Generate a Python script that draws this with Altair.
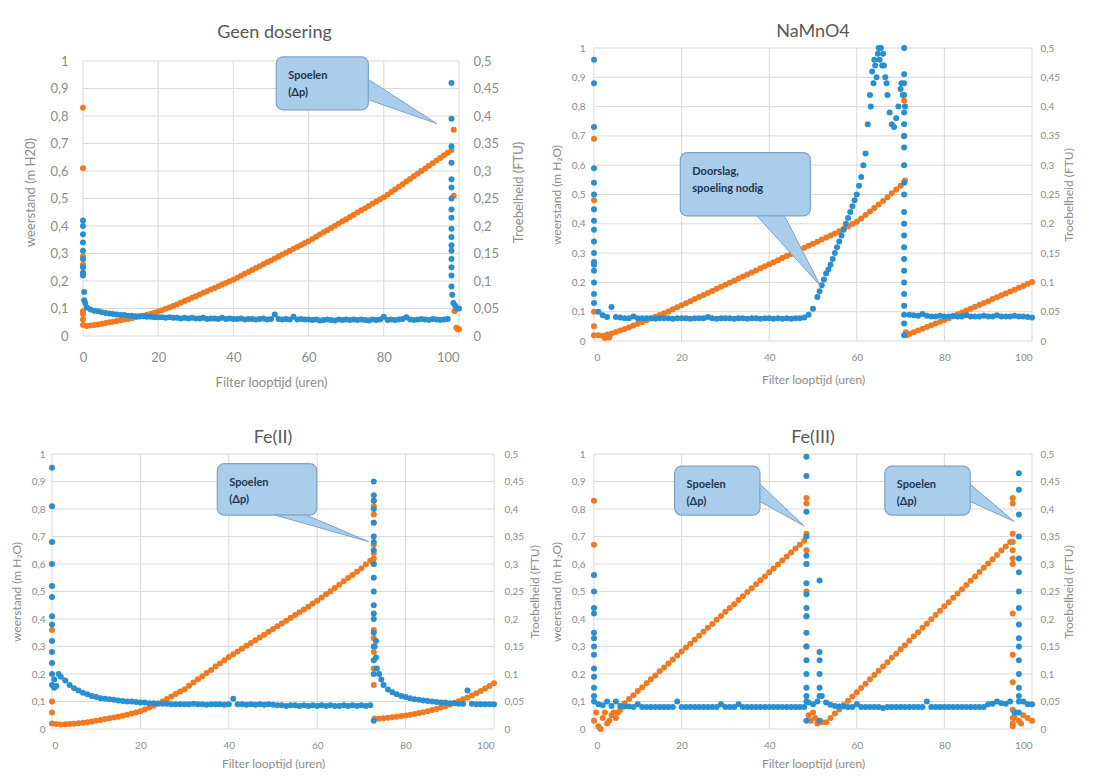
import altair as alt
import pandas as pd

# ---------------------------------------------------------------- data
HOURS = [0, 1, 2, 3, 4, 5, 6, 7, 8, 9, 10, 11, 12, 13, 14, 15, 16, 17, 18, 19, 20,
         21, 22, 23, 24, 25, 26, 27, 28, 29, 30, 31, 32, 33, 34, 35, 36, 37, 38, 39, 40,
         41, 42, 43, 44, 45, 46, 47, 48, 49, 50, 51, 52, 53, 54, 55, 56, 57, 58, 59, 60,
         61, 62, 63, 64, 65, 66, 67, 68, 69, 70, 71, 72, 73, 74, 75, 76, 77, 78, 79, 80,
         81, 82, 83, 84, 85, 86, 87, 88, 89, 90, 91, 92, 93, 94, 95, 96, 97, 98, 99, 100]

X_TICKS = [0, 20, 40, 60, 80, 100]
LEFT_TICKS = [0, 0.1, 0.2, 0.3, 0.4, 0.5, 0.6, 0.7, 0.8, 0.9, 1]
RIGHT_TICKS = [0, 0.05, 0.1, 0.15, 0.2, 0.25, 0.3, 0.35, 0.4, 0.45, 0.5]

# --- Geen dosering: weerstand (m H2O), hours 0..98
GD_W = [0.040, 0.036, 0.038, 0.040, 0.042, 0.045, 0.047, 0.050, 0.052, 0.055, 0.057,
        0.060, 0.062, 0.065, 0.068, 0.071, 0.074, 0.077, 0.081, 0.085, 0.089,
        0.094, 0.099, 0.104, 0.109, 0.115, 0.121, 0.127, 0.133, 0.139, 0.145,
        0.151, 0.157, 0.163, 0.169, 0.175, 0.181, 0.187, 0.193, 0.199, 0.205,
        0.212, 0.219, 0.226, 0.233, 0.240, 0.247, 0.254, 0.261, 0.268, 0.275,
        0.282, 0.289, 0.296, 0.303, 0.310, 0.317, 0.324, 0.331, 0.338, 0.345,
        0.353, 0.361, 0.369, 0.377, 0.385, 0.393, 0.401, 0.409, 0.417, 0.425,
        0.433, 0.441, 0.449, 0.457, 0.465, 0.473, 0.481, 0.489, 0.497, 0.505,
        0.514, 0.524, 0.533, 0.543, 0.552, 0.562, 0.571, 0.581, 0.590, 0.600,
        0.609, 0.619, 0.628, 0.638, 0.647, 0.657, 0.666, 0.676]
GD_W_EXTRA_X = [0, 0, 0, 0, 0, 0, 0, 98.6, 98.6, 98.8, 99.3, 99.7, 100]
GD_W_EXTRA_Y = [0.83, 0.61, 0.29, 0.26, 0.09, 0.08, 0.06, 0.75, 0.51, 0.09, 0.03, 0.025, 0.025]
# --- Geen dosering: troebelheid (FTU), hours 0..97
GD_T = [0.115, 0.052, 0.048, 0.046, 0.045, 0.043, 0.042, 0.041, 0.040, 0.039, 0.038,
        0.038, 0.037, 0.037, 0.036, 0.036, 0.036, 0.035, 0.035, 0.034, 0.034,
        0.034, 0.033, 0.034, 0.033, 0.033, 0.032, 0.033, 0.032, 0.033, 0.032,
        0.032, 0.033, 0.031, 0.032, 0.032, 0.031, 0.033, 0.031, 0.032, 0.031,
        0.031, 0.032, 0.030, 0.031, 0.031, 0.030, 0.031, 0.032, 0.030, 0.031,
        0.039, 0.031, 0.030, 0.031, 0.030, 0.035, 0.030, 0.031, 0.030, 0.030,
        0.029, 0.030, 0.028, 0.029, 0.030, 0.029, 0.028, 0.030, 0.029, 0.030,
        0.029, 0.030, 0.029, 0.030, 0.029, 0.028, 0.030, 0.029, 0.030, 0.035,
        0.029, 0.030, 0.029, 0.030, 0.031, 0.034, 0.030, 0.029, 0.030, 0.031,
        0.030, 0.029, 0.031, 0.030, 0.029, 0.030, 0.031]
GD_T_EXTRA_X = [0, 0, 0, 0, 0, 0, 0, 0, 0.3, 0.3, 0.6,
                98, 98, 98, 98, 98, 98, 98, 98, 98, 98, 98, 98, 98, 98, 98, 98, 98, 98.2,
                98.5, 99, 99.5, 100]
GD_T_EXTRA_Y = [0.21, 0.20, 0.185, 0.17, 0.155, 0.14, 0.125, 0.11, 0.08, 0.065, 0.06,
                0.46, 0.395, 0.345, 0.315, 0.285, 0.27, 0.25, 0.23, 0.215, 0.195, 0.18,
                0.165, 0.155, 0.14, 0.125, 0.11, 0.09, 0.075,
                0.06, 0.055, 0.05, 0.05]

# --- NaMnO4: weerstand, hours 0..100
NA_W = [0.020, 0.020, 0.018, 0.022, 0.026, 0.031, 0.036, 0.041, 0.047, 0.053, 0.059,
        0.065, 0.071, 0.077, 0.083, 0.089, 0.095, 0.101, 0.108, 0.115, 0.122,
        0.129, 0.136, 0.143, 0.150, 0.157, 0.164, 0.171, 0.178, 0.185, 0.192,
        0.199, 0.206, 0.213, 0.220, 0.227, 0.234, 0.241, 0.248, 0.255, 0.262,
        0.269, 0.276, 0.283, 0.290, 0.297, 0.304, 0.311, 0.318, 0.325, 0.332,
        0.339, 0.346, 0.353, 0.360, 0.367, 0.375, 0.383, 0.391, 0.399, 0.407,
        0.418, 0.430, 0.442, 0.454, 0.466, 0.478, 0.491, 0.504, 0.517, 0.530,
        0.548, 0.024, 0.030, 0.036, 0.042, 0.048, 0.054, 0.060, 0.066, 0.072,
        0.078, 0.084, 0.091, 0.097, 0.104, 0.110, 0.117, 0.123, 0.130, 0.136,
        0.143, 0.149, 0.156, 0.162, 0.169, 0.175, 0.182, 0.188, 0.195, 0.201]
NA_W_EXTRA_X = [0, 0, 0, 0, 2.5, 3.5, 70.8, 70.8, 71.2, 71.4]
NA_W_EXTRA_Y = [0.69, 0.48, 0.10, 0.05, 0.01, 0.012, 0.82, 0.70, 0.03, 0.02]
# --- NaMnO4: troebelheid, hours 0..100
NA_T = [0.130, 0.050, 0.044, 0.041, 0.058, 0.041, 0.040, 0.039, 0.039, 0.042, 0.039,
        0.039, 0.039, 0.039, 0.038, 0.039, 0.039, 0.039, 0.038, 0.039, 0.039,
        0.039, 0.038, 0.039, 0.039, 0.039, 0.041, 0.039, 0.038, 0.039, 0.039,
        0.039, 0.038, 0.039, 0.039, 0.038, 0.039, 0.039, 0.038, 0.039, 0.039,
        0.038, 0.039, 0.038, 0.039, 0.038, 0.039, 0.039, 0.040, 0.045, 0.055,
        0.075, 0.095, 0.115, 0.130, 0.150, 0.170, 0.190, 0.210, 0.230, 0.250,
        0.280, 0.320, 0.420, 0.480, 0.500, 0.490, 0.420, 0.370, 0.380, 0.430,
        0.400, 0.045, 0.044, 0.043, 0.046, 0.043, 0.042, 0.042, 0.043, 0.042,
        0.042, 0.043, 0.042, 0.042, 0.044, 0.042, 0.042, 0.042, 0.043, 0.042,
        0.042, 0.044, 0.042, 0.042, 0.042, 0.043, 0.042, 0.042, 0.041, 0.040]
NA_T_EXTRA_X = [0, 0, 0, 0, 0, 0, 0, 0, 0, 0, 0, 0, 0, 0, 0, 0,
                51.5, 52.5, 53.5, 54.5, 55.5, 56.5, 57.5, 58.5, 59.5, 60.5, 61.5,
                62.5, 63.2, 63.5, 63.8, 64.2, 64.5, 64.8, 65.2, 65.5, 65.8, 66.2, 66.5,
                66.8, 67.5, 68.5, 69.5, 70.2, 70.5,
                70.8, 70.8, 70.8, 70.8, 70.8, 70.8, 70.8, 70.8, 70.8, 70.8, 70.8, 70.8,
                70.8, 70.8, 70.8, 70.8, 70.8, 70.8, 70.8, 70.8, 70.8, 70.8, 70.8]
NA_T_EXTRA_Y = [0.48, 0.44, 0.365, 0.295, 0.27, 0.25, 0.225, 0.205, 0.19, 0.17, 0.15,
                0.135, 0.12, 0.10, 0.08, 0.065,
                0.085, 0.105, 0.122, 0.14, 0.16, 0.18, 0.20, 0.22, 0.24, 0.265, 0.30,
                0.37, 0.40, 0.46, 0.44, 0.47, 0.45, 0.49, 0.48, 0.50, 0.47, 0.47, 0.45,
                0.44, 0.39, 0.365, 0.40, 0.44, 0.42,
                0.50, 0.455, 0.44, 0.42, 0.39, 0.37, 0.35, 0.33, 0.30, 0.27, 0.25, 0.22,
                0.20, 0.18, 0.16, 0.14, 0.12, 0.10, 0.08, 0.06, 0.045, 0.03, 0.01]

# --- Fe(II): weerstand, hours 0..100
F2_W = [0.020, 0.018, 0.016, 0.017, 0.018, 0.019, 0.021, 0.023, 0.025, 0.027, 0.030,
        0.033, 0.036, 0.039, 0.042, 0.045, 0.048, 0.052, 0.056, 0.060, 0.065,
        0.071, 0.078, 0.085, 0.093, 0.100, 0.109, 0.118, 0.127, 0.136, 0.145,
        0.157, 0.169, 0.181, 0.192, 0.204, 0.215, 0.227, 0.238, 0.250, 0.262,
        0.272, 0.282, 0.293, 0.303, 0.313, 0.323, 0.333, 0.343, 0.354, 0.364,
        0.374, 0.384, 0.394, 0.405, 0.415, 0.425, 0.435, 0.445, 0.456, 0.466,
        0.478, 0.490, 0.501, 0.513, 0.525, 0.537, 0.549, 0.560, 0.572, 0.584,
        0.598, 0.612, 0.038, 0.037, 0.039, 0.041, 0.043, 0.045, 0.047, 0.049,
        0.052, 0.055, 0.058, 0.061, 0.065, 0.069, 0.073, 0.078, 0.083, 0.089,
        0.095, 0.101, 0.108, 0.115, 0.122, 0.130, 0.138, 0.147, 0.156, 0.166]
F2_W_EXTRA_X = [0, 0, 0, 72.8, 72.8, 72.8, 72.8, 72.8, 72.8, 72.8, 72.8, 72.8, 72.8, 72.8,
                72.8, 72.8]
F2_W_EXTRA_Y = [0.36, 0.10, 0.06, 0.83, 0.81, 0.78, 0.75, 0.67, 0.64, 0.62, 0.60, 0.36,
                0.33, 0.28, 0.22, 0.16]
# --- Fe(II): troebelheid, hours 0..100
F2_T = [0.080, 0.078, 0.095, 0.088, 0.080, 0.074, 0.070, 0.066, 0.063, 0.060, 0.058,
        0.056, 0.055, 0.054, 0.053, 0.052, 0.051, 0.050, 0.050, 0.049, 0.048,
        0.048, 0.047, 0.047, 0.046, 0.046, 0.046, 0.045, 0.045, 0.045, 0.045,
        0.045, 0.046, 0.045, 0.045, 0.044, 0.045, 0.045, 0.045, 0.044, 0.045,
        0.055, 0.045, 0.045, 0.044, 0.045, 0.044, 0.045, 0.044, 0.045, 0.044,
        0.043, 0.043, 0.042, 0.043, 0.043, 0.042, 0.043, 0.042, 0.043, 0.042,
        0.043, 0.042, 0.043, 0.042, 0.042, 0.043, 0.042, 0.043, 0.042, 0.043,
        0.042, 0.043, 0.150, 0.100, 0.080, 0.072, 0.067, 0.063, 0.060, 0.058,
        0.056, 0.054, 0.053, 0.052, 0.051, 0.050, 0.049, 0.048, 0.048, 0.047,
        0.047, 0.046, 0.046, 0.070, 0.046, 0.045, 0.045, 0.045, 0.045, 0.045]
F2_T_EXTRA_X = [0, 0, 0, 0, 0, 0, 0, 0, 0, 0, 0, 0, 0.5, 0.5, 1.5,
                72.8, 72.8, 72.8, 72.8, 72.8, 72.8, 72.8, 72.8, 72.8, 72.8, 72.8, 72.8,
                72.8, 72.8, 72.8, 72.8, 72.8, 72.8, 72.8, 73.3, 73.3, 73.5, 74.5]
F2_T_EXTRA_Y = [0.475, 0.405, 0.34, 0.30, 0.26, 0.24, 0.205, 0.19, 0.16, 0.14, 0.12, 0.10,
                0.09, 0.075, 0.1,
                0.45, 0.425, 0.415, 0.40, 0.375, 0.35, 0.34, 0.325, 0.30, 0.275, 0.25,
                0.225, 0.21, 0.20, 0.175, 0.15, 0.125, 0.10, 0.015, 0.16, 0.13, 0.11, 0.09]

# --- Fe(III): weerstand, hours 0..100
F3_W = [0.030, 0.010, 0.040, 0.020, 0.050, 0.040, 0.070, 0.094, 0.109, 0.123, 0.138,
        0.152, 0.166, 0.181, 0.195, 0.210, 0.224, 0.238, 0.253, 0.267, 0.282,
        0.296, 0.310, 0.325, 0.339, 0.354, 0.368, 0.382, 0.397, 0.411, 0.426,
        0.440, 0.454, 0.469, 0.483, 0.498, 0.512, 0.526, 0.541, 0.555, 0.570,
        0.584, 0.598, 0.613, 0.627, 0.642, 0.656, 0.670, 0.685, 0.050, 0.060,
        0.020, 0.025, 0.025, 0.040, 0.056, 0.071, 0.087, 0.103, 0.118, 0.134,
        0.149, 0.165, 0.181, 0.196, 0.212, 0.227, 0.243, 0.259, 0.274, 0.290,
        0.305, 0.321, 0.337, 0.352, 0.368, 0.383, 0.399, 0.415, 0.430, 0.446,
        0.461, 0.477, 0.493, 0.508, 0.524, 0.539, 0.555, 0.571, 0.586, 0.602,
        0.617, 0.633, 0.649, 0.664, 0.680, 0.040, 0.030, 0.050, 0.040, 0.030]
F3_W_EXTRA_X = [0, 0, 0.5, 1.5, 2.5, 3.5, 4.5, 5.5,
                48.5, 48.5, 48.5, 48.5, 48.5, 48.5, 48.5, 48.5, 49.5, 50.5, 51.5,
                95.6, 95.6, 95.6, 95.6, 95.6, 95.6, 95.6, 95.6, 95.6, 95.6, 95.6,
                95.6, 95.6, 95.6, 96.5, 97.5]
F3_W_EXTRA_Y = [0.83, 0.67, 0.06, 0.0, 0.06, 0.03, 0.06, 0.06,
                0.84, 0.82, 0.71, 0.65, 0.60, 0.50, 0.41, 0.30, 0.03, 0.04, 0.03,
                0.84, 0.82, 0.71, 0.68, 0.65, 0.62, 0.60, 0.42, 0.27, 0.17, 0.07,
                0.04, 0.02, 0.01, 0.06, 0.02]
# --- Fe(III): troebelheid, hours 0..100
F3_T = [0.050, 0.045, 0.043, 0.050, 0.042, 0.050, 0.042, 0.041, 0.041, 0.040, 0.045,
        0.040, 0.040, 0.040, 0.040, 0.040, 0.040, 0.040, 0.040, 0.050, 0.040,
        0.040, 0.040, 0.040, 0.040, 0.040, 0.040, 0.040, 0.040, 0.045, 0.040,
        0.040, 0.040, 0.045, 0.040, 0.040, 0.040, 0.040, 0.040, 0.040, 0.040,
        0.040, 0.040, 0.040, 0.040, 0.040, 0.040, 0.040, 0.040, 0.048, 0.045,
        0.050, 0.060, 0.048, 0.044, 0.042, 0.041, 0.041, 0.040, 0.040, 0.045,
        0.040, 0.040, 0.040, 0.040, 0.040, 0.038, 0.040, 0.040, 0.040, 0.040,
        0.040, 0.040, 0.040, 0.040, 0.040, 0.050, 0.040, 0.040, 0.040, 0.040,
        0.040, 0.040, 0.040, 0.040, 0.040, 0.040, 0.040, 0.040, 0.040, 0.045,
        0.046, 0.050, 0.047, 0.046, 0.050, 0.030, 0.050, 0.050, 0.045, 0.045]
F3_T_EXTRA_X = [0, 0, 0, 0, 0, 0, 0, 0, 0, 0, 0, 0,
                48.5, 48.5, 48.5, 48.5, 48.5, 48.5, 48.5, 48.5, 48.5, 48.5, 48.5, 48.5,
                48.5, 48.5, 48.5, 48.5, 48.5, 48.5,
                51.5, 51.5, 51.5, 51.5, 51.5, 51.5, 51.5,
                97, 97, 97, 97, 97, 97, 97, 97, 97, 97, 97, 97, 97, 97, 97, 97]
F3_T_EXTRA_Y = [0.28, 0.25, 0.22, 0.21, 0.175, 0.165, 0.15, 0.135, 0.11, 0.095, 0.075, 0.06,
                0.495, 0.46, 0.395, 0.35, 0.315, 0.30, 0.265, 0.245, 0.22, 0.205, 0.175,
                0.15, 0.125, 0.10, 0.075, 0.06, 0.05, 0.015,
                0.27, 0.14, 0.125, 0.10, 0.075, 0.06, 0.015,
                0.465, 0.435, 0.39, 0.35, 0.31, 0.285, 0.25, 0.22, 0.19, 0.165, 0.15,
                0.125, 0.10, 0.075, 0.06, 0.03]

# --- callouts (x in hours, y in weerstand units)
GD_BOX = {"x1": [51.4], "x2": [75.9], "y1": [1.015], "y2": [0.822], "t": ["Spoelen\n(Δp)"]}
GD_TAIL = {"id": [1, 1], "x": [75.9, 94.0], "y": [0.933, 0.773], "y2": [0.859, 0.773]}
NA_BOX = {"x1": [19.7], "x2": [49.4], "y1": [0.643], "y2": [0.427],
          "t": ["Doorslag,\nspoeling nodig"]}
NA_TAIL = {"id": [1, 1], "y": [0.427, 0.188], "x": [37.2, 51.7], "x2": [43.5, 51.7]}
F2_BOX = {"x1": [37.4], "x2": [59.9], "y1": [0.965], "y2": [0.778], "t": ["Spoelen\n(Δp)"]}
F2_TAIL = {"id": [1, 1], "y": [0.778, 0.681], "x": [50.4, 71.7], "x2": [57.5, 71.7]}
F3_BOX = {"x1": [18.4, 66.4], "x2": [37.9, 85.9], "y1": [0.956, 0.956], "y2": [0.778, 0.778],
          "t": ["Spoelen\n(Δp)", "Spoelen\n(Δp)"]}
F3_TAIL = {"id": [1, 1, 2, 2], "x": [37.9, 48.0, 85.9, 95.9], "y": [0.89, 0.738, 0.89, 0.755],
           "y2": [0.827, 0.738, 0.827, 0.755]}

# ---------------------------------------------------------------- style
ORANGE = "#F07A22"
BLUE = "#2A8FD0"
FONT = "Lato"
GRID = "#D9D9D9"
LABEL = "#8C8C8C"
TITLE_GRAY = "#595959"
BOX_FILL = "#A9CDEB"
BOX_STROKE = "#7EA3C7"
COMMA = "replace(format(datum.value, '.2~f'), '.', ',')"
DOT = 36


def frame(xs, ys, ex, ey):
    return pd.DataFrame({"x": list(xs) + list(ex), "y": list(ys) + list(ey)})


def panel(title, wx, wy, wex, wey, tx, ty, tex, tey, box, tail, tail_h, left_title, s):
    top = s["D"]
    xscale = alt.Scale(domain=[s["X0"], 100], nice=False, padding=0, zero=False)
    ls = alt.Scale(domain=[0, top], nice=False, padding=0)
    rs = alt.Scale(domain=[0, top / 2], nice=False, padding=0)
    xa = dict(values=X_TICKS, title="Filter looptijd (uren)", grid=False,
              domain=False, ticks=False, labelFont=FONT,
              labelFontSize=s["lab"], labelColor=LABEL, labelPadding=s["xlp"],
              titleFont=FONT, titleFontSize=s["tit"], titleColor=LABEL,
              titleFontWeight="normal", titlePadding=s["xtp"])
    if "tx" in s:
        xa["titleX"] = s["tx"]
    xaxis = alt.Axis(**xa)
    laxis = alt.Axis(orient="left", values=LEFT_TICKS, labelExpr=COMMA, title=left_title,
                     grid=False, domain=False, ticks=False, labelFont=FONT,
                     labelFontSize=s["lab"], labelColor=LABEL, labelPadding=s["llp"],
                     titleFont=FONT, titleFontSize=s["tit"], titleColor=LABEL,
                     titleFontWeight="normal", titlePadding=s["ltp"], offset=s["loff"])
    raxis = alt.Axis(orient="right", values=RIGHT_TICKS, labelExpr=COMMA,
                     title="Troebelheid (FTU)", grid=False, domain=False, ticks=False,
                     labelFont=FONT, labelFontSize=s["lab"], labelColor=LABEL,
                     labelPadding=s["rlp"], titleFont=FONT, titleFontSize=s["tit"],
                     titleColor=LABEL, titleFontWeight="normal", titlePadding=s["rtp"],
                     titleAngle=270, titleBaseline="top")
    X = lambda f: alt.X(f, scale=xscale, axis=xaxis)
    vgrid = alt.Chart(pd.DataFrame({"g": X_TICKS, "lo": [0] * len(X_TICKS),
                                    "hi": [1] * len(X_TICKS)})).mark_rule(
        color=GRID, strokeWidth=1).encode(
        x=X("g:Q"), y=alt.Y("lo:Q", scale=ls, axis=None), y2="hi:Q")
    hgrid = alt.Chart(pd.DataFrame({"g": LEFT_TICKS, "lo": [0] * len(LEFT_TICKS),
                                    "hi": [100] * len(LEFT_TICKS)})).mark_rule(
        color=GRID, strokeWidth=1).encode(
        y=alt.Y("g:Q", scale=ls, axis=None), x=X("lo:Q"), x2="hi:Q")
    orange = alt.Chart(frame(wx, wy, wex, wey)).mark_circle(
        size=DOT, opacity=1, color=ORANGE).encode(
        x=X("x:Q"), y=alt.Y("y:Q", scale=ls, axis=laxis))
    blue = alt.Chart(frame(tx, ty, tex, tey)).mark_circle(
        size=DOT, opacity=1, color=BLUE).encode(
        x=X("x:Q"), y=alt.Y("y:Q", scale=rs, axis=raxis))
    bdf = pd.DataFrame(box)
    boxes = alt.Chart(bdf).mark_rect(cornerRadius=7, fill=BOX_FILL, stroke=BOX_STROKE,
                                     strokeWidth=1.2).encode(
        x=X("x1:Q"), x2="x2:Q", y=alt.Y("y1:Q", scale=ls, axis=None), y2="y2:Q")
    tdf = pd.DataFrame(tail)
    if tail_h:
        tails = alt.Chart(tdf).mark_area(orient="horizontal", fill=BOX_FILL,
                                         stroke=BOX_STROKE, strokeWidth=1).encode(
            y=alt.Y("y:Q", scale=ls, axis=None), x=X("x:Q"), x2="x2:Q", detail="id:N")
    else:
        tails = alt.Chart(tdf).mark_area(orient="vertical", fill=BOX_FILL,
                                         stroke=BOX_STROKE, strokeWidth=1).encode(
            x=X("x:Q"), y=alt.Y("y:Q", scale=ls, axis=None), y2="y2:Q", detail="id:N")
    texts = alt.Chart(bdf).mark_text(align="left", baseline="middle", dx=12, dy=19,
                                     lineBreak="\n", lineHeight=17, font=FONT, fontSize=11,
                                     fontWeight="bold", color="#1F3550").encode(
        x=X("x1:Q"), y=alt.Y("y1:Q", scale=ls, axis=None), text="t:N")
    return alt.layer(vgrid, hgrid, orange, blue, boxes, tails, texts).resolve_scale(
        y="independent").properties(
        width=s["w"], height=s["h"],
        title=alt.TitleParams(title, font=FONT, fontSize=18, color=TITLE_GRAY,
                              fontWeight="normal", offset=s["toff"], dx=s["tdx"]))


# Panel 1 starts its plot box at the same left edge as panel 3 (grid alignment),
# so its x domain reaches a little below 0 and its left axis is shifted inwards.
S1 = dict(w=407, h=288, D=288 / 275, X0=-8.24, loff=-31, tx=219, tdx=19,
          lab=13, tit=13, xlp=15, xtp=12, llp=15, ltp=12, rlp=14, rtp=14, toff=6)
S2 = dict(w=438, h=293, D=1, X0=0, loff=0, tdx=0,
          lab=10, tit=12, xlp=11, xtp=12, llp=9, ltp=8, rlp=8, rtp=4, toff=2)
S3 = dict(w=442, h=275, D=1, X0=0, loff=0, tdx=0,
          lab=10, tit=12, xlp=11, xtp=8, llp=7, ltp=8, rlp=10, rtp=6, toff=2)
S4 = dict(w=438, h=275, D=1, X0=0, loff=0, tdx=0,
          lab=10, tit=12, xlp=11, xtp=8, llp=9, ltp=8, rlp=8, rtp=4, toff=2)

p1 = panel("Geen dosering", HOURS[:99], GD_W, GD_W_EXTRA_X, GD_W_EXTRA_Y,
           HOURS[:98], GD_T, GD_T_EXTRA_X, GD_T_EXTRA_Y, GD_BOX, GD_TAIL, False,
           "weerstand  (m H20)", S1)
p2 = panel("NaMnO4", HOURS, NA_W, NA_W_EXTRA_X, NA_W_EXTRA_Y,
           HOURS, NA_T, NA_T_EXTRA_X, NA_T_EXTRA_Y, NA_BOX, NA_TAIL, True,
           "weerstand (m H₂O)", S2)
p3 = panel("Fe(II)", HOURS, F2_W, F2_W_EXTRA_X, F2_W_EXTRA_Y,
           HOURS, F2_T, F2_T_EXTRA_X, F2_T_EXTRA_Y, F2_BOX, F2_TAIL, True,
           "weerstand (m H₂O)", S3)
p4 = panel("Fe(III)", HOURS, F3_W, F3_W_EXTRA_X, F3_W_EXTRA_Y,
           HOURS, F3_T, F3_T_EXTRA_X, F3_T_EXTRA_Y, F3_BOX, F3_TAIL, False,
           "weerstand (m H₂O)", S4)

chart = alt.concat(p1, p2, p3, p4, columns=2, spacing={"row": 40, "column": 9},
                   align="each").properties(
    padding={"left": 2, "top": 15, "right": 2, "bottom": 0},
    background="white",
).configure_view(stroke=None)

chart.save("out.html", embed_options={"renderer": "svg", "actions": False})
